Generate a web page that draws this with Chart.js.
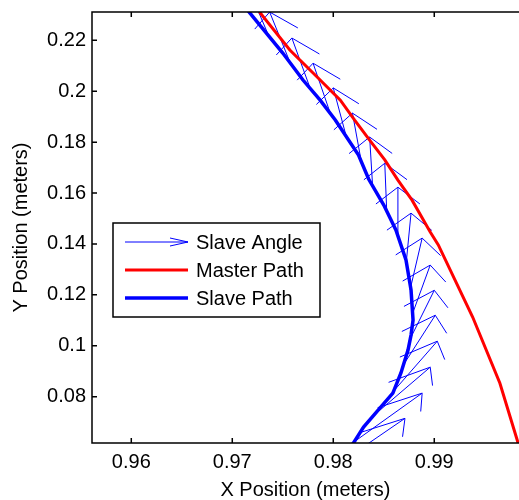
<!DOCTYPE html>
<html>
<head>
<meta charset="utf-8">
<script src="https://cdn.jsdelivr.net/npm/chart.js@4.4.1/dist/chart.umd.min.js"></script>
<style>
  body { margin: 0; background: #fff; }
  #wrap { width: 519px; height: 500px; }
</style>
</head>
<body>
<div id="wrap"><canvas id="chart" width="519" height="500"></canvas></div>
<script>
// master path (red)
const masterX = [0.9727, 0.9757, 0.9784, 0.9807, 0.9821, 0.9836, 0.9851, 0.9864, 0.9878, 0.9896, 0.9904, 0.9938, 0.9965, 0.9983];
const masterY = [0.2311, 0.2162, 0.2056, 0.1965, 0.1887, 0.1808, 0.1730, 0.1651, 0.1572, 0.1447, 0.1396, 0.1113, 0.0853, 0.0618];

// slave path (blue)
const slaveX = [0.9715, 0.9750, 0.9770, 0.9787, 0.9802, 0.9825, 0.9835, 0.9850, 0.9862, 0.9872, 0.9877, 0.9879, 0.9877, 0.9874, 0.9867, 0.9859, 0.9847, 0.9830, 0.9820, 0.9807];
const slaveY = [0.2319, 0.2150, 0.2044, 0.1965, 0.1887, 0.1749, 0.1655, 0.1553, 0.1455, 0.1337, 0.1219, 0.1101, 0.1042, 0.0983, 0.0893, 0.0814, 0.0759, 0.0681, 0.0618, 0.0559];

// slave angle quiver: tails + components
const angleX = [0.9716, 0.9737, 0.9757, 0.9777, 0.9797, 0.9813, 0.9828, 0.9839, 0.9853, 0.9864, 0.9872, 0.9876, 0.9878, 0.9875, 0.9868, 0.9858, 0.9837, 0.9819, 0.9799];
const angleY = [0.2311, 0.2209, 0.2115, 0.2013, 0.1914, 0.1820, 0.1718, 0.1624, 0.1521, 0.1423, 0.1317, 0.1219, 0.1121, 0.1018, 0.0916, 0.0814, 0.0716, 0.0618, 0.0519];
const angleU = [-0.0022, -0.0021, -0.0020, -0.0018, -0.0017, -0.0013, -0.0009, -0.0003, -0.0002, 0.0000, 0.0005, 0.0012, 0.0018, 0.0025, 0.0033, 0.0045, 0.0059, 0.0069, 0.0072];
const angleV = [0.0196, 0.0196, 0.0196, 0.0196, 0.0196, 0.0193, 0.0196, 0.0196, 0.0196, 0.0200, 0.0204, 0.0204, 0.0196, 0.0200, 0.0204, 0.0204, 0.0200, 0.0196, 0.0196];

const xTicks = [0.96, 0.97, 0.98, 0.99];
const yTicks = [0.08, 0.1, 0.12, 0.14, 0.16, 0.18, 0.2, 0.22];

Chart.defaults.font.family = '"Liberation Sans", Arial, sans-serif';
Chart.defaults.font.size = 20;
Chart.defaults.color = '#000';

// quiver arrows like matlab (head computed in data units)
const alpha = 0.33, beta = 0.33;
const arrowPts = [];
angleX.forEach((x0, i) => {
  const y0 = angleY[i], u = angleU[i], v = angleV[i];
  const x1 = x0 + u, y1 = y0 + v;
  arrowPts.push({x: x0, y: y0}, {x: x1, y: y1}, {x: null, y: null});
  arrowPts.push({x: x1 - alpha * (u + beta * v), y: y1 - alpha * (v - beta * u)});
  arrowPts.push({x: x1, y: y1});
  arrowPts.push({x: x1 - alpha * (u - beta * v), y: y1 - alpha * (v + beta * u)});
  arrowPts.push({x: null, y: null});
});

const toPts = (xs, ys) => xs.map((x, i) => ({x, y: ys[i]}));

const fmt = v => String(Math.round(v * 1000) / 1000);

const frame = {
  id: 'frame',
  afterDatasetsDraw(chart) {
    const {ctx, chartArea: a, scales: {x, y}} = chart;
    ctx.save();
    ctx.strokeStyle = '#000';
    ctx.lineWidth = 1.5;
    ctx.beginPath();
    ctx.moveTo(a.right, a.top);
    ctx.lineTo(a.left, a.top);
    ctx.lineTo(a.left, a.bottom);
    ctx.lineTo(a.right, a.bottom);
    xTicks.forEach(v => {
      const px = x.getPixelForValue(v);
      ctx.moveTo(px, a.bottom); ctx.lineTo(px, a.bottom - 5);
      ctx.moveTo(px, a.top); ctx.lineTo(px, a.top + 5);
    });
    yTicks.forEach(v => {
      const py = y.getPixelForValue(v);
      ctx.moveTo(a.left, py); ctx.lineTo(a.left + 5, py);
    });
    ctx.stroke();

    // legend box
    const bx = 113, by = 223, bw = 207, bh = 94;
    ctx.fillStyle = '#fff';
    ctx.fillRect(bx, by, bw, bh);
    ctx.strokeRect(bx, by, bw, bh);
    ctx.font = '20px "Liberation Sans", Arial, sans-serif';
    ctx.textBaseline = 'middle';
    chart.data.datasets.forEach((ds, i) => {
      const ly = 242 + i * 28;
      ctx.strokeStyle = ds.borderColor;
      ctx.lineWidth = ds.borderWidth;
      ctx.beginPath();
      ctx.moveTo(125, ly); ctx.lineTo(188, ly);
      if (ds.label === 'Slave Angle') {
        ctx.moveTo(170, ly - 4); ctx.lineTo(188, ly); ctx.lineTo(170, ly + 4);
      }
      ctx.stroke();
      ctx.fillStyle = '#000';
      ctx.fillText(ds.label, 196, ly + 1);
    });
    ctx.restore();
  }
};

new Chart(document.getElementById('chart'), {
  type: 'scatter',
  data: {
    datasets: [
      {
        label: 'Slave Angle',
        data: arrowPts,
        showLine: true,
        spanGaps: false,
        borderColor: '#0000ff',
        borderWidth: 1,
        pointRadius: 0,
        order: 3
      },
      {
        label: 'Master Path',
        data: toPts(masterX, masterY),
        showLine: true,
        borderColor: '#ff0000',
        borderWidth: 3,
        pointRadius: 0,
        order: 2
      },
      {
        label: 'Slave Path',
        data: toPts(slaveX, slaveY),
        showLine: true,
        borderColor: '#0000ff',
        borderWidth: 3.5,
        pointRadius: 0,
        order: 1
      }
    ]
  },
  options: {
    responsive: false,
    animation: false,
    layout: { padding: { top: 12, right: 0, left: 0, bottom: 0 } },
    plugins: {
      legend: { display: false },
      tooltip: { enabled: false }
    },
    scales: {
      x: {
        type: 'linear',
        min: 0.95611,
        max: 0.99839,
        grid: { display: false, drawTicks: false },
        border: { display: false },
        afterBuildTicks: s => { s.ticks = xTicks.map(v => ({value: v})); },
        afterFit: s => { s.height = 57; s.paddingLeft = 0; s.paddingRight = 0; },
        ticks: { padding: 7, maxRotation: 0, callback: fmt },
        title: {
          display: true,
          text: 'X Position (meters)',
          font: { size: 20, lineHeight: 1 },
          padding: { top: 0, bottom: 0 }
        }
      },
      y: {
        type: 'linear',
        min: 0.06181,
        max: 0.23112,
        grid: { display: false, drawTicks: false },
        border: { display: false },
        afterBuildTicks: s => { s.ticks = yTicks.map(v => ({value: v})); },
        afterFit: s => { s.width = 92; s.paddingTop = 0; s.paddingBottom = 0; },
        ticks: { padding: 6, callback: fmt },
        title: {
          display: true,
          text: 'Y Position (meters)',
          font: { size: 20, lineHeight: 1 },
          padding: { top: 11, bottom: 0 }
        }
      }
    }
  },
  plugins: [frame]
});
</script>
</body>
</html>
